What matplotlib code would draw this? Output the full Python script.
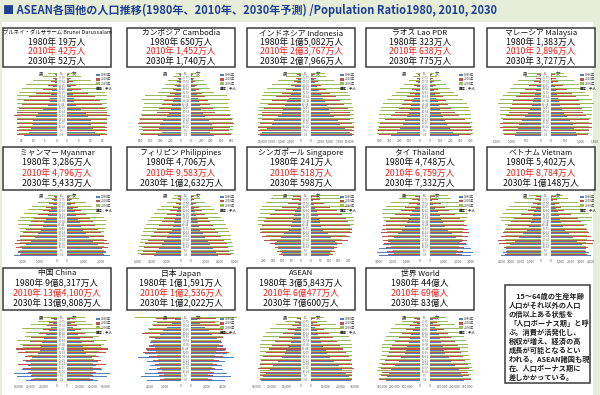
import matplotlib
matplotlib.use("Agg")
import matplotlib.pyplot as plt
from matplotlib.patches import Rectangle
import numpy as np

plt.rcParams['font.family'] = ['Noto Sans CJK JP', 'DejaVu Sans']

# ---------------- data (per sex, thousands; age groups bottom -> top) ----------------
ages = ["0-4", "5-9", "10-14", "15-19", "20-24", "25-29", "30-34", "35-39", "40-44",
        "45-49", "50-54", "55-59", "60-64", "65-69", "70-74", "75-79", "80+"]
years = ["1980年", "2010年", "2030年"]

brunei_1980 = [14, 12, 11, 10, 10, 9, 8, 6, 4, 3, 3, 2.5, 2, 1.5, 1, 0.7, 0.5]
brunei_2010 = [17, 17, 17, 17, 17, 18, 17, 16, 15, 14, 12, 9, 6, 4, 2.5, 1.5, 1]
brunei_2030 = [16, 16, 16, 17, 17, 17, 17, 17, 17, 17, 17, 16, 15, 13, 10, 6, 4]

cambodia_1980 = [450, 380, 430, 420, 350, 280, 230, 200, 180, 160, 140, 110, 90, 70, 45, 30, 20]
cambodia_2010 = [800, 750, 780, 850, 820, 780, 480, 430, 380, 330, 280, 220, 160, 110, 80, 50, 40]
cambodia_2030 = [820, 830, 840, 840, 830, 800, 780, 760, 740, 780, 720, 450, 380, 320, 250, 150, 100]

indonesia_1980 = [10500, 10000, 8700, 7500, 7000, 6000, 5000, 4700, 4200, 3500, 3000, 2600, 2100, 1600, 1100, 700, 500]
indonesia_2010 = [11000, 11000, 11000, 10500, 10000, 10000, 10000, 9500, 8500, 7500, 6500, 5000, 3800, 2700, 1900, 1300, 1000]
indonesia_2030 = [10500, 10700, 11000, 11000, 11000, 11000, 11000, 10800, 10600, 10300, 10000, 9500, 8800, 7600, 6000, 4000, 3500]

lao_1980 = [290, 230, 200, 170, 150, 130, 110, 95, 85, 75, 60, 50, 40, 30, 20, 12, 8]
lao_2010 = [400, 410, 400, 390, 350, 290, 250, 210, 180, 160, 130, 100, 80, 60, 40, 25, 15]
lao_2030 = [420, 420, 410, 410, 400, 400, 390, 380, 360, 330, 280, 240, 200, 160, 110, 70, 40]

malaysia_1980 = [900, 850, 800, 750, 650, 550, 450, 380, 320, 280, 240, 200, 160, 120, 80, 50, 40]
malaysia_2010 = [1250, 1300, 1400, 1400, 1300, 1200, 1100, 1050, 1000, 950, 850, 700, 550, 400, 250, 160, 120]
malaysia_2030 = [1300, 1300, 1300, 1300, 1350, 1400, 1400, 1400, 1450, 1400, 1300, 1150, 1050, 950, 800, 550, 450]

myanmar_1980 = [2500, 2300, 2050, 1800, 1550, 1300, 1100, 950, 850, 750, 650, 550, 450, 350, 250, 150, 100]
myanmar_2010 = [2200, 2300, 2400, 2450, 2350, 2200, 2000, 1800, 1650, 1500, 1350, 1100, 850, 650, 450, 300, 200]
myanmar_2030 = [2100, 2150, 2150, 2200, 2200, 2200, 2200, 2250, 2300, 2300, 2150, 1950, 1700, 1450, 1100, 700, 500]

philippines_1980 = [3800, 3400, 3000, 2700, 2400, 2000, 1600, 1300, 1100, 950, 800, 650, 500, 380, 250, 150, 100]
philippines_2010 = [5500, 5300, 5100, 5000, 4600, 4100, 3700, 3300, 3000, 2700, 2300, 1900, 1500, 1100, 700, 450, 350]
philippines_2030 = [5900, 5900, 5800, 5700, 5600, 5500, 5300, 5100, 4900, 4600, 4200, 3800, 3300, 2800, 2000, 1300, 1000]

singapore_1980 = [95, 100, 125, 140, 130, 110, 90, 65, 55, 50, 45, 40, 30, 22, 15, 10, 8]
singapore_2010 = [120, 130, 140, 170, 200, 210, 220, 220, 210, 200, 190, 170, 140, 100, 70, 50, 45]
singapore_2030 = [110, 115, 125, 140, 170, 190, 210, 220, 230, 230, 230, 220, 220, 210, 190, 160, 150]

thailand_1980 = [3000, 3100, 3000, 2700, 2300, 1900, 1600, 1300, 1100, 950, 800, 700, 550, 400, 250, 150, 100]
thailand_2010 = [2300, 2400, 2500, 2600, 2700, 2800, 2850, 2800, 2700, 2500, 2200, 1800, 1400, 1100, 800, 550, 400]
thailand_2030 = [1900, 2000, 2100, 2200, 2300, 2350, 2400, 2450, 2500, 2600, 2700, 2750, 2700, 2500, 2100, 1500, 1300]

vietnam_1980 = [4000, 3800, 3500, 3100, 2600, 2200, 1800, 1400, 1200, 1050, 950, 850, 700, 550, 400, 250, 150]
vietnam_2010 = [3600, 3500, 3700, 4200, 4300, 4000, 3800, 3600, 3300, 3000, 2700, 2000, 1300, 1000, 800, 600, 500]
vietnam_2030 = [3400, 3450, 3500, 3550, 3600, 3650, 3700, 3500, 3600, 4000, 4100, 3800, 3500, 3200, 2700, 1700, 1200]

china_1980 = [48000, 62000, 66000, 55000, 45000, 48000, 38000, 30000, 27000, 25000, 23000, 20000, 17000, 13000, 9000, 6000, 4000]
china_2010 = [40000, 40000, 45000, 52000, 60000, 52000, 50000, 60000, 63000, 52000, 42000, 40000, 28000, 21000, 16000, 12000, 10000]
china_2030 = [36000, 38000, 40000, 40000, 40000, 42000, 45000, 50000, 52000, 58000, 62000, 50000, 48000, 55000, 40000, 30000, 28000]

japan_1980 = [4300, 5100, 4600, 4100, 3900, 4300, 5400, 4600, 4300, 4100, 3900, 3300, 2700, 2300, 1800, 1200, 800]
japan_2010 = [2700, 2800, 2900, 3100, 3300, 3600, 4000, 4800, 4400, 4000, 3800, 4000, 5000, 4000, 3600, 3000, 3200]
japan_2030 = [2100, 2200, 2400, 2600, 2800, 2900, 3000, 3200, 3300, 3500, 3800, 4000, 4600, 4200, 3700, 3600, 5800]

asean_1980 = [27000, 26000, 24000, 21000, 19000, 16000, 13000, 11000, 10000, 8000, 7000, 6000, 5000, 4000, 2500, 1500, 1000]
asean_2010 = [28000, 28000, 28000, 29000, 28000, 27000, 26000, 24000, 22000, 20000, 18000, 15000, 12000, 9000, 6000, 4000, 3000]
asean_2030 = [28000, 28000, 28000, 28000, 28000, 28000, 28000, 28000, 28000, 28000, 27000, 26000, 24000, 21000, 17000, 11000, 9000]

world_1980 = [270000, 260000, 250000, 230000, 200000, 170000, 150000, 120000, 110000, 100000, 90000, 80000, 70000, 55000, 40000, 25000, 20000]
world_2010 = [330000, 310000, 300000, 310000, 300000, 280000, 260000, 250000, 240000, 220000, 200000, 170000, 140000, 110000, 80000, 55000, 50000]
world_2030 = [330000, 330000, 340000, 335000, 330000, 320000, 310000, 300000, 300000, 300000, 290000, 270000, 250000, 230000, 200000, 140000, 130000]

names = ["ブルネイ・ダルサラーム Brunei Darussalam", "カンボジア Cambodia", "インドネシア Indonesia",
         "ラオス Lao PDR", "マレーシア Malaysia", "ミャンマー Myanmar", "フィリピン Philippines",
         "シンガポール Singapore", "タイ Thailand", "ベトナム Vietnam", "中国 China", "日本 Japan",
         "ASEAN", "世界 World"]
pop_1980 = ["19万人", "650万人", "1億5,082万人", "323万人", "1,383万人", "3,286万人", "4,706万人",
            "241万人", "4,748万人", "5,402万人", "9億8,317万人", "1億1,591万人", "3億5,843万人", "44億人"]
pop_2010 = ["42万人", "1,452万人", "2億3,767万人", "638万人", "2,896万人", "4,796万人", "9,583万人",
            "518万人", "6,759万人", "8,784万人", "13億4,100万人", "1億2,536万人", "6億477万人", "69億人"]
pop_2030 = ["52万人", "1,740万人", "2億7,966万人", "775万人", "3,727万人", "5,433万人", "1億2,632万人",
            "598万人", "7,332万人", "1億148万人", "13億9,808万人", "1億2,022万人", "7億600万人", "83億人"]

series = [
    (brunei_1980, brunei_2010, brunei_2030),
    (cambodia_1980, cambodia_2010, cambodia_2030),
    (indonesia_1980, indonesia_2010, indonesia_2030),
    (lao_1980, lao_2010, lao_2030),
    (malaysia_1980, malaysia_2010, malaysia_2030),
    (myanmar_1980, myanmar_2010, myanmar_2030),
    (philippines_1980, philippines_2010, philippines_2030),
    (singapore_1980, singapore_2010, singapore_2030),
    (thailand_1980, thailand_2010, thailand_2030),
    (vietnam_1980, vietnam_2010, vietnam_2030),
    (china_1980, china_2010, china_2030),
    (japan_1980, japan_2010, japan_2030),
    (asean_1980, asean_2010, asean_2030),
    (world_1980, world_2010, world_2030),
]

note_lines = ["　15～64歳の生産年齢", "人口がそれ以外の人口", "の倍以上ある状態を",
              "「人口ボーナス期」と呼", "ぶ。消費が活発化し、", "税収が増え、経済の高",
              "成長が可能となるとい", "われる。ASEAN諸国も現", "在、人口ボーナス期に",
              "差しかかっている。"]

title = "■ ASEAN各国他の人口推移(1980年、2010年、2030年予測) /Population Ratio1980, 2010, 2030"

# ---------------- styling / layout ----------------
colors = ['#4f81bd', '#c0504d', '#9bbb59']
W, H = 600, 395
fig = plt.figure(figsize=(6, 3.95), dpi=100)
fig.patch.set_facecolor('#e6eed9')


def rect(x, y, w, h):
    return [x / W, 1 - (y + h) / H, w / W, h / H]


def fx(x):
    return x / W


def fy(y):
    return 1 - y / H


fig.add_artist(Rectangle((fx(2), 0), fx(591), (H - 22) / H, transform=fig.transFigure,
                         facecolor='white', edgecolor='none', zorder=-5))
fig.text(fx(3), fy(10), title, color='#1f3f97', fontsize=8.0, fontweight='bold',
         va='center', ha='left')

col_left = [3, 127, 247, 366, 487]
box_w = 108
rows = [  # box_top, box_h, pyr_top, pyr_h
    (28, 39, 72, 65),
    (147, 43, 194, 63),
    (268, 42, 316, 66),
]


def nice_step(v):
    raw = v / 5.0
    mag = 10 ** np.floor(np.log10(raw))
    for m in (1, 2, 2.5, 5, 10):
        if raw <= m * mag:
            return m * mag
    return 10 * mag


for i, name in enumerate(names):
    r, c = divmod(i, 5)
    bl = col_left[c]
    bt, bh, pt, ph = rows[r]
    # text box
    fig.add_artist(Rectangle((fx(bl), fy(bt + bh)), box_w / W, bh / H, transform=fig.transFigure,
                             facecolor='white', edgecolor='#3a3a3a', linewidth=1.1))
    cx = bl + box_w / 2
    name_fs = 3.9 if i == 0 else 5.6
    fig.text(fx(cx), fy(bt + bh * 0.13), name, fontsize=name_fs, ha='center', va='center',
             color='#111111')
    fig.text(fx(cx), fy(bt + bh * 0.37), "1980年 " + pop_1980[i], fontsize=6.3,
             ha='center', va='center', color='#111111')
    fig.text(fx(cx), fy(bt + bh * 0.61), "2010年 " + pop_2010[i], fontsize=6.3,
             ha='center', va='center', color='#e8231b')
    fig.text(fx(cx), fy(bt + bh * 0.85), "2030年 " + pop_2030[i], fontsize=6.3,
             ha='center', va='center', color='#111111')

    # pyramid
    vmax = max(max(s) for s in series[i][:2] + (series[i][2][:-1],))
    xmax = vmax * 1.08
    step = nice_step(xmax)
    ticks = np.arange(0, xmax + 1e-9, step)
    ax_l = fig.add_axes(rect(bl + 8, pt, 46, ph))
    ax_r = fig.add_axes(rect(bl + 64, pt, 46, ph))
    ax_c = fig.add_axes(rect(bl + 54, pt, 10, ph))
    y = np.arange(len(ages))
    for k, vals in enumerate(series[i]):
        yy = y + (k - 1) * 0.29
        ax_l.barh(yy, vals, height=0.27, color=colors[k], clip_on=False)
        ax_r.barh(yy, vals, height=0.27, color=colors[k], clip_on=False)
    for ax in (ax_l, ax_r, ax_c):
        ax.set_ylim(-0.6, len(ages) - 0.4)
        ax.patch.set_visible(False)
        for s in ax.spines.values():
            s.set_visible(False)
        ax.set_yticks([])
    ax_l.set_xlim(xmax, 0)
    ax_r.set_xlim(0, xmax)
    for ax in (ax_l, ax_r):
        ax.set_xticks(ticks)
        ax.set_xticklabels([f"{t:,.0f}" for t in ticks])
        ax.tick_params(axis='x', length=0, pad=1.5, labelsize=2.3, labelcolor='#555555')
    ax_c.set_xticks([])
    for j, lab in enumerate(ages):
        ax_c.text(0.5, j, lab, fontsize=1.9, ha='center', va='center', color='#666666',
                  transform=ax_c.get_yaxis_transform())
    fig.text(fx(bl + 38), fy(pt + 2), "男", fontsize=3.2, ha='center', va='center', color='#333333')
    fig.text(fx(bl + 71), fy(pt + 2), "女", fontsize=3.2, ha='center', va='center', color='#333333')
    for k in range(3):
        ly = pt + 3 + 4.3 * k
        fig.add_artist(Rectangle((fx(bl + 93), fy(ly + 1.2)), 3.5 / W, 2.4 / H,
                                 transform=fig.transFigure, facecolor=colors[k], edgecolor='none'))
        fig.text(fx(bl + 97.5), fy(ly), years[k], fontsize=2.3, ha='left', va='center',
                 color='#444444')
    fig.text(fx(bl + 93), fy(pt + 17), "単位：千人", fontsize=2.4, ha='left', va='center',
             color='#222222', fontweight='bold')

# note box
fig.add_artist(Rectangle((fx(505), fy(383)), 85 / W, 98 / H, transform=fig.transFigure,
                         facecolor='white', edgecolor='#3a3a3a', linewidth=1.1))
for j, line in enumerate(note_lines):
    fig.text(fx(509), fy(296 + 9.1 * j), line, fontsize=5.2, ha='left', va='center',
             color='#222222', fontweight='bold')

fig.savefig("out.png", dpi=100, facecolor=fig.get_facecolor())
